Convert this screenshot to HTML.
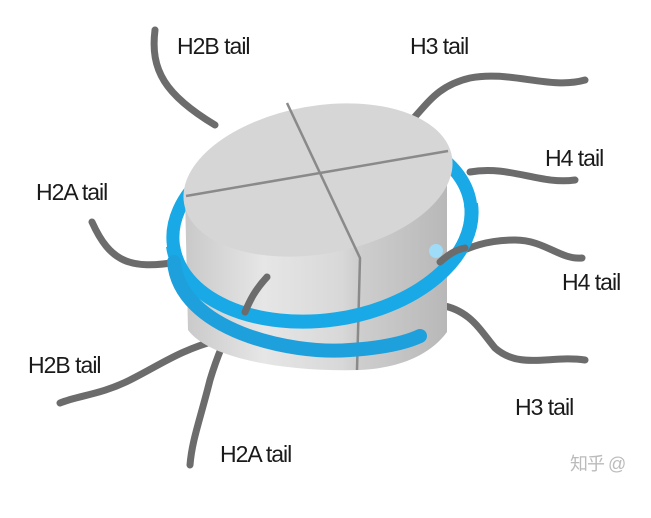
<!DOCTYPE html>
<html><head><meta charset="utf-8"><style>
html,body{margin:0;padding:0;background:#fff}
svg text{font-family:"Liberation Sans","Noto Sans CJK SC",sans-serif;font-size:23px;fill:#1a1a1a;letter-spacing:-1px}
</style></head><body>
<svg width="651" height="513" viewBox="0 0 651 513" xmlns="http://www.w3.org/2000/svg">
<defs>
<linearGradient id="body" x1="0" x2="1" y1="0" y2="0">
<stop offset="0" stop-color="#c9c9c9"/><stop offset="0.3" stop-color="#e6e6e6"/><stop offset="0.6" stop-color="#d8d8d8"/><stop offset="0.65" stop-color="#cfcfcf"/><stop offset="1" stop-color="#b8b8b8"/>
</linearGradient>
</defs>
<g fill="none" stroke="#6c6c6c" stroke-width="7" stroke-linecap="round">
<path d="M155 30 C150 70 165 95 215 125"/>
<path d="M412 120 C430 100 440 85 470 78 C510 70 550 90 585 80"/>
<path d="M470 172 C510 165 540 185 575 180"/>
<path d="M178 262 C130 270 110 262 92 222"/>
<path d="M440 262 C470 245 490 240 515 240 C545 240 560 260 582 258"/>
<path d="M440 305 C470 310 480 330 495 348 C520 370 550 355 585 360"/>
<path d="M218 340 C180 350 160 365 130 380 C100 395 80 395 60 403"/>
<path d="M267 277 C245 300 225 330 210 380 C200 420 192 440 190 465"/>
</g>
<!-- ring back (full) -->
<ellipse cx="322" cy="225" rx="150" ry="95" transform="rotate(-8 322 225)" fill="none" stroke="#18a9e6" stroke-width="13"/>
<!-- cylinder body -->
<path d="M185 195 L188 330 C210 360 290 372 360 370 C400 368 430 355 447 332 L447 150 Z" fill="url(#body)"/>
<!-- top face -->
<ellipse cx="318" cy="180" rx="136" ry="74" transform="rotate(-10 318 180)" fill="#d6d6d6"/>
<path d="M287 103 L360 258 L357 370" fill="none" stroke="#8a8a8a" stroke-width="2.5"/>
<path d="M186 196 L448 151" fill="none" stroke="#8a8a8a" stroke-width="2.5"/>
<!-- ring front -->
<path d="M173 246 A150 95 -8 0 0 471 204" fill="none" stroke="#18a9e6" stroke-width="14"/>
<path d="M174 262 C180 330 290 355 350 350 C380 348 405 343 420 336" fill="none" stroke="#1ea0dc" stroke-width="14" stroke-linecap="round"/>
<circle cx="436" cy="251" r="7" fill="#9fdcf7"/>
<path d="M440 262 C448 255 455 250 465 248" fill="none" stroke="#6c6c6c" stroke-width="7" stroke-linecap="round"/>
<path d="M267 277 C255 290 250 300 245 312" fill="none" stroke="#6c6c6c" stroke-width="7" stroke-linecap="round"/>
<text x="177" y="54">H2B tail</text>
<text x="410" y="54">H3 tail</text>
<text x="545" y="166">H4 tail</text>
<text x="36" y="200">H2A tail</text>
<text x="562" y="290">H4 tail</text>
<text x="28" y="373">H2B tail</text>
<text x="515" y="415">H3 tail</text>
<text x="220" y="462">H2A tail</text>
<text x="570" y="470" style="fill:#bbb;font-size:18px">知乎 @</text>
</svg>
</body></html>
